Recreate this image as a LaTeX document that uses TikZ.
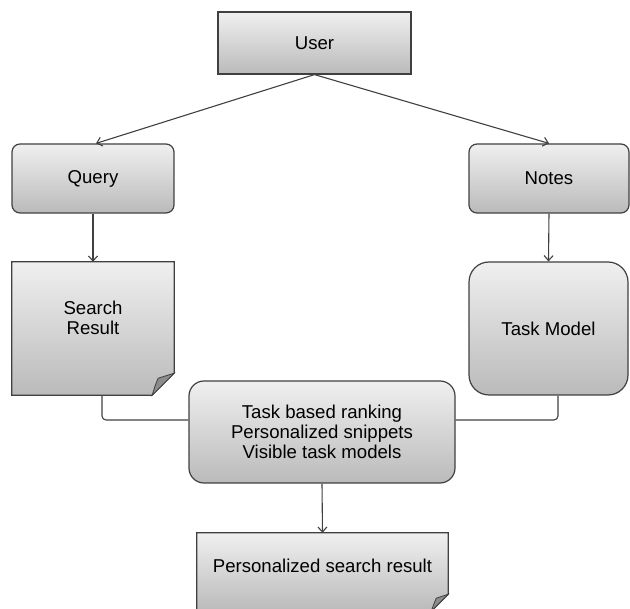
\documentclass[tikz,border=0pt]{standalone}
\usepackage{fontspec}
\setmainfont{Liberation Sans}
\usetikzlibrary{arrows.meta,backgrounds,calc}
\begin{document}
\begin{tikzpicture}[x=1pt,y=-1pt,
  shade/.style={top color=black!6, bottom color=black!27},
  outline/.style={draw=black!75, line width=1.2pt},
  txt/.style={font=\fontsize{18.6}{20}\selectfont, text=black, align=center},
  basebox/.style={shade, outline, txt, inner sep=0pt},
  rbox/.style={basebox, rounded corners=#1},
  docbox/.style={txt, inner sep=0pt, draw=none, fill=none},
  fold/.style={draw=black!75, line width=0.8pt, fill=black!45},
  conn/.style={draw=black!75, line width=1.1pt},
  arr/.style={conn, -{Straight Barb[length=5pt,width=9pt]}}
]
\useasboundingbox (0,0) rectangle (630,609);

\node[basebox, minimum width=193pt, minimum height=62pt] (user) at (314.5,43) {User};
\node[rbox=8pt, minimum width=162pt, minimum height=69pt] (query) at (93,178.5) {Query};
\node[rbox=8pt, minimum width=160pt, minimum height=69pt] (notes) at (549,178.5) {Notes};
\node[docbox, minimum width=162pt, minimum height=133pt,
      label={[txt, yshift=11pt]center:Search\\Result}] (sr) at (93,328.5) {};
\node[rbox=20pt, minimum width=159pt, minimum height=133pt] (tm) at (548.5,328.5) {Task Model};
\node[rbox=15pt, minimum width=266pt, minimum height=102pt] (cb) at (322,432)
  {Task based ranking\\Personalized snippets\\Visible task models};
\node[docbox, minimum width=251pt, minimum height=78pt,
      label={[txt, yshift=6pt]center:Personalized search result}] (psr) at (322.5,572) {};

\begin{scope}[on background layer]
  \path[shade, outline] (sr.north west) -- (sr.north east) -- ([yshift=22pt]sr.south east)
     -- ([xshift=-22pt]sr.south east) -- (sr.south west) -- cycle;
  \path[fold] ([xshift=-22pt]sr.south east) .. controls ([xshift=-19pt,yshift=10pt]sr.south east) .. ([xshift=-16pt,yshift=17pt]sr.south east)
     -- ([yshift=22pt]sr.south east) -- cycle;
  \path[shade, outline] (psr.north west) -- (psr.north east) -- ([yshift=17pt]psr.south east)
     -- ([xshift=-17pt]psr.south east) -- (psr.south west) -- cycle;
  \path[fold] ([xshift=-17pt]psr.south east) .. controls ([xshift=-14pt,yshift=8pt]psr.south east) .. ([xshift=-12pt,yshift=13pt]psr.south east)
     -- ([yshift=17pt]psr.south east) -- cycle;
\end{scope}

\draw[arr] (user.south) -- ([xshift=3pt]query.north);
\draw[arr] (user.south) -- (notes.north);
\draw[arr] (query.south) -- (sr.north);
\draw[arr] (notes.south) -- (tm.north);
\draw[conn, rounded corners=4pt] ([xshift=9pt]sr.south) |- ([yshift=12pt]cb.west);
\draw[conn, rounded corners=4pt] ([xshift=9.5pt]tm.south) |- ([yshift=12pt]cb.east);
\draw[arr] (cb.south) -- (psr.north);
\end{tikzpicture}
\end{document}
